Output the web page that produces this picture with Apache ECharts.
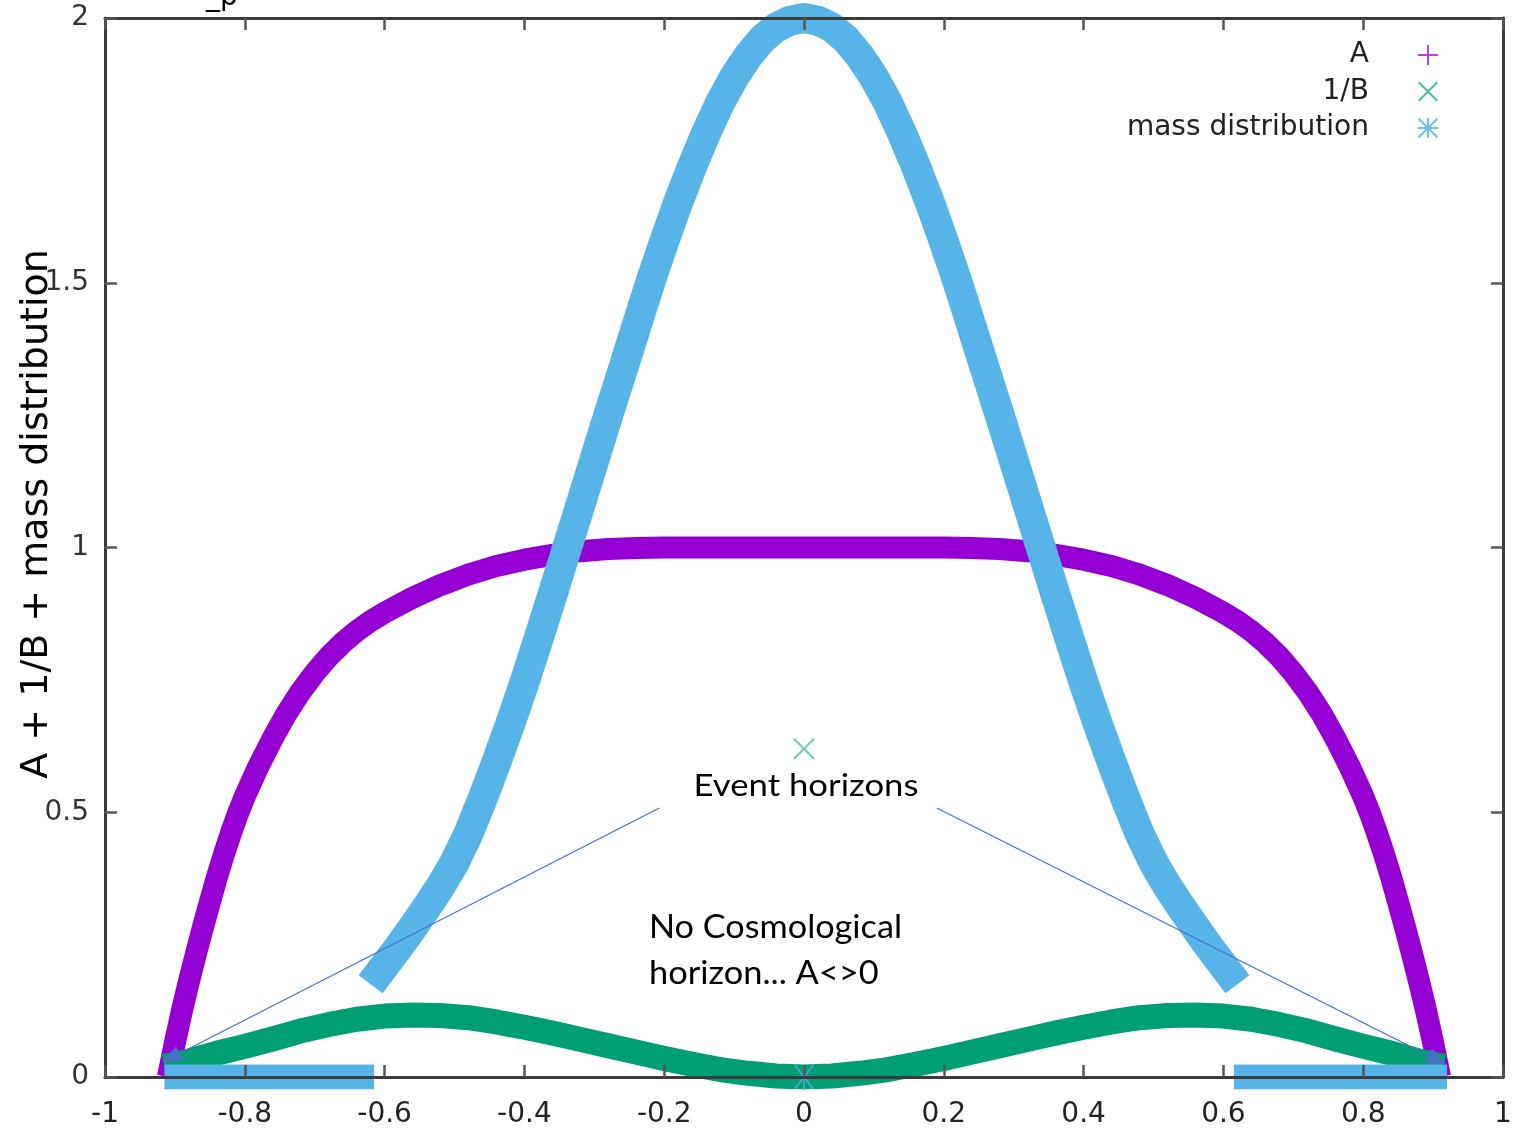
<!DOCTYPE html>
<html>
<head>
<meta charset="utf-8">
<script src="https://cdn.jsdelivr.net/npm/echarts@6/dist/echarts.min.js"></script>
<style>
html,body{margin:0;padding:0;background:#fff;}
#chart{width:1522px;height:1134px;}
</style>
</head>
<body>
<div id="chart"></div>
<script>
// ---------- data ----------
const xRange = [-1, 1];
const yRange = [0, 2];
const xTickStep = 0.2;
const yTickStep = 0.5;

const seriesNames = ['A', '1/B', 'mass distribution'];

// A (purple)
const aData = [
  [-0.91,0.00],[-0.90,0.065],[-0.89,0.125],[-0.88,0.18],[-0.87,0.232],[-0.86,0.282],[-0.85,0.33],[-0.84,0.377],
  [-0.83,0.42],[-0.82,0.46],[-0.81,0.497],[-0.80,0.53],[-0.78,0.588],[-0.76,0.64],[-0.74,0.687],[-0.72,0.728],[-0.70,0.763],
  [-0.68,0.794],[-0.66,0.82],[-0.64,0.842],[-0.62,0.861],[-0.60,0.877],[-0.56,0.905],[-0.52,0.929],
  [-0.48,0.949],[-0.44,0.965],[-0.40,0.977],[-0.36,0.986],[-0.32,0.993],[-0.28,0.997],[-0.24,0.999],
  [-0.20,1.0],[0,1.0],[0.20,1.0],
  [0.24,0.999],[0.28,0.997],[0.32,0.993],[0.36,0.986],[0.40,0.977],[0.44,0.965],[0.48,0.949],
  [0.52,0.929],[0.56,0.905],[0.60,0.877],[0.62,0.861],[0.64,0.842],[0.66,0.82],[0.68,0.794],
  [0.70,0.763],[0.72,0.728],[0.74,0.687],[0.76,0.64],[0.78,0.588],[0.80,0.53],[0.81,0.497],[0.82,0.46],[0.83,0.42],
  [0.84,0.377],[0.85,0.33],[0.86,0.282],[0.87,0.232],[0.88,0.18],[0.89,0.125],[0.90,0.065],[0.91,0.00]
];

// 1/B (green)
const invBData = [
  [-0.915,0.02],[-0.88,0.03],[-0.84,0.045],[-0.80,0.058],[-0.76,0.072],[-0.72,0.087],[-0.68,0.099],
  [-0.64,0.109],[-0.60,0.115],[-0.56,0.117],[-0.52,0.116],[-0.48,0.112],[-0.44,0.104],[-0.40,0.094],
  [-0.36,0.083],[-0.32,0.071],[-0.28,0.059],[-0.24,0.047],[-0.20,0.035],[-0.16,0.024],[-0.12,0.014],
  [-0.08,0.007],[-0.04,0.002],[0,0.0],
  [0.04,0.002],[0.08,0.007],[0.12,0.014],[0.16,0.024],[0.20,0.035],[0.24,0.047],[0.28,0.059],
  [0.32,0.071],[0.36,0.083],[0.40,0.094],[0.44,0.104],[0.48,0.112],[0.52,0.116],[0.56,0.117],
  [0.60,0.115],[0.64,0.109],[0.68,0.099],[0.72,0.087],[0.76,0.072],[0.80,0.058],[0.84,0.045],
  [0.88,0.03],[0.915,0.02]
];
const invBStray = [[0, 0.62]];

// mass distribution (light blue)
const massBell = [
  [-0.62,0.175],[-0.60,0.21],[-0.58,0.245],[-0.56,0.282],[-0.54,0.32],[-0.52,0.36],[-0.50,0.405],
  [-0.48,0.46],[-0.46,0.525],[-0.44,0.595],[-0.42,0.668],[-0.40,0.745],[-0.38,0.827],[-0.36,0.91],
  [-0.34,0.995],[-0.32,1.08],[-0.30,1.165],[-0.28,1.25],[-0.26,1.333],[-0.24,1.417],[-0.22,1.50],
  [-0.20,1.578],[-0.18,1.652],[-0.16,1.72],[-0.14,1.783],[-0.12,1.84],[-0.10,1.888],[-0.08,1.928],
  [-0.06,1.96],[-0.04,1.982],[-0.02,1.995],[0,2.0],
  [0.02,1.995],[0.04,1.982],[0.06,1.96],[0.08,1.928],[0.10,1.888],[0.12,1.84],[0.14,1.783],
  [0.16,1.72],[0.18,1.652],[0.20,1.578],[0.22,1.50],[0.24,1.417],[0.26,1.333],[0.28,1.25],
  [0.30,1.165],[0.32,1.08],[0.34,0.995],[0.36,0.91],[0.38,0.827],[0.40,0.745],[0.42,0.668],
  [0.44,0.595],[0.46,0.525],[0.48,0.46],[0.50,0.405],[0.52,0.36],[0.54,0.32],[0.56,0.282],
  [0.58,0.245],[0.60,0.21],[0.62,0.175]
];
const massZeroLeft = [[-0.915,0],[-0.615,0]];
const massZeroRight = [[0.615,0],[0.92,0]];
const massStray = [[0, 0]];

// annotation arrows (data coordinates)
const arrowLeft = [[-0.207,0.508],[-0.906,0.036]];
const arrowRight = [[0.19,0.508],[0.906,0.032]];

// ---------- styling ----------
const PURPLE = '#9400D3', GREEN = '#009E73', BLUE = '#56B4E9';
const PLUS = 'path://M9,0h2v9h9v2h-9v9h-2v-9h-9v-2h9z';
const CROSS = 'path://M0,1.4L1.4,0L10,8.6L18.6,0L20,1.4L11.4,10L20,18.6L18.6,20L10,11.4L1.4,20L0,18.6L8.6,10Z';
const STAR = 'path://M9,0h2v9h9v2h-9v9h-2v-9h-9v-2h9zM0,1.4L1.4,0L10,8.6L18.6,0L20,1.4L11.4,10L20,18.6L18.6,20L10,11.4L1.4,20L0,18.6L8.6,10Z';

const AXIS_COLOR = '#3a3a3a';
const FONT = 'DejaVu Sans';

function xAxisCfg(pos, labels) {
  return {
    type: 'value', position: pos, min: xRange[0], max: xRange[1], interval: xTickStep, z: 5,
    axisLine: { show: true, onZero: false, lineStyle: { color: AXIS_COLOR, width: 3 } },
    axisTick: { show: true, inside: true, length: 12, lineStyle: { color: '#555', width: 2.5 } },
    axisLabel: { show: labels, margin: 24, color: '#222', fontSize: 28, fontFamily: FONT,
      formatter: v => (Math.abs(v) < 1e-9 ? '0' : String(+v.toFixed(1))) },
    splitLine: { show: false }
  };
}
function yAxisCfg(pos, labels) {
  return {
    type: 'value', position: pos, min: yRange[0], max: yRange[1], interval: yTickStep, z: 5,
    axisLine: { show: true, onZero: false, lineStyle: { color: AXIS_COLOR, width: 3 } },
    axisTick: { show: true, inside: true, length: 12, lineStyle: { color: '#555', width: 2.5 } },
    axisLabel: { show: labels, margin: 16, color: '#333', fontSize: 28, fontFamily: FONT,
      formatter: v => String(v) },
    splitLine: { show: false }
  };
}

const chart = echarts.init(document.getElementById('chart'), null, { renderer: 'canvas' });

const option = {
  animation: false,
  backgroundColor: '#ffffff',
  grid: { left: 105, right: 19, top: 18, bottom: 57, containLabel: false },
  xAxis: [xAxisCfg('bottom', true), xAxisCfg('top', false)],
  yAxis: [yAxisCfg('left', true), yAxisCfg('right', false)],
  legend: {
    orient: 'vertical', right: 79, top: 34, align: 'right',
    itemWidth: 20, itemHeight: 20, itemGap: 4.5,
    textStyle: { fontSize: 28, fontFamily: FONT, color: '#222', padding: [0, 44, 0, 0], lineHeight: 32 },
    data: [
      { name: seriesNames[0], icon: PLUS, itemStyle: { color: '#b444e0' } },
      { name: seriesNames[1], icon: CROSS, itemStyle: { color: '#4cbf98' } },
      { name: seriesNames[2], icon: STAR, itemStyle: { color: '#6cc0f0' } }
    ]
  },
  series: [
    { name: seriesNames[0], type: 'line', data: aData, showSymbol: false, z: 2,
      color: PURPLE, lineStyle: { color: PURPLE, width: 22, cap: 'butt', join: 'round' } },
    { name: seriesNames[1], type: 'line', data: invBData, showSymbol: false, z: 3,
      color: GREEN, lineStyle: { color: GREEN, width: 25, cap: 'butt', join: 'round' } },
    { name: seriesNames[2], type: 'line', data: massBell, showSymbol: false, z: 4,
      color: BLUE, lineStyle: { color: BLUE, width: 30, cap: 'butt', join: 'round' } },
    { name: seriesNames[2], type: 'line', data: massZeroLeft, showSymbol: false, z: 4,
      color: BLUE, lineStyle: { color: BLUE, width: 25, cap: 'butt' } },
    { name: seriesNames[2], type: 'line', data: massZeroRight, showSymbol: false, z: 4,
      color: BLUE, lineStyle: { color: BLUE, width: 25, cap: 'butt' } },
    { name: seriesNames[2], type: 'scatter', data: massStray, symbol: STAR, symbolSize: [20, 26], z: 4,
      itemStyle: { color: 'rgba(86,180,233,0.8)' } },
    { name: seriesNames[1] + ' ', type: 'scatter', data: invBStray, symbol: CROSS, symbolSize: 22, z: 6,
      itemStyle: { color: 'rgba(0,158,115,0.65)' },
      markLine: {
        silent: true, animation: false, z: 7,
        symbol: ['none', 'triangle'], symbolSize: [16, 20],
        label: { show: false },
        lineStyle: { color: '#4472C4', width: 1.2, type: 'solid' },
        data: [
          [{ coord: arrowLeft[0] }, { coord: arrowLeft[1] }],
          [{ coord: arrowRight[0] }, { coord: arrowRight[1] }]
        ]
      }
    }
  ],
  graphic: [
    { type: 'text', x: 806, y: 786, z: 100, scaleX: 1.12,
      style: { text: 'Event horizons', fill: '#000', font: '31px Lato', align: 'center', verticalAlign: 'middle' } },
    { type: 'text', x: 649, y: 928, z: 100, scaleX: 1.07,
      style: { text: 'No Cosmological', fill: '#000', font: '32px Lato', align: 'left', verticalAlign: 'middle' } },
    { type: 'text', x: 649, y: 974, z: 100, scaleX: 1.075,
      style: { text: 'horizon... A<>0', fill: '#000', font: '32px Lato', align: 'left', verticalAlign: 'middle' } },
    { type: 'text', x: 37, y: 514, rotation: Math.PI / 2, z: 100,
      style: { text: 'A + 1/B + mass distribution', fill: '#000', font: '38px "DejaVu Sans"', align: 'center', verticalAlign: 'middle' } },
    { type: 'text', x: 206, y: 12, z: 100,
      style: { text: '_p', fill: '#000', font: '28px "DejaVu Sans"', align: 'left', verticalAlign: 'bottom' } }
  ]
};
chart.setOption(option);
</script>
</body>
</html>
